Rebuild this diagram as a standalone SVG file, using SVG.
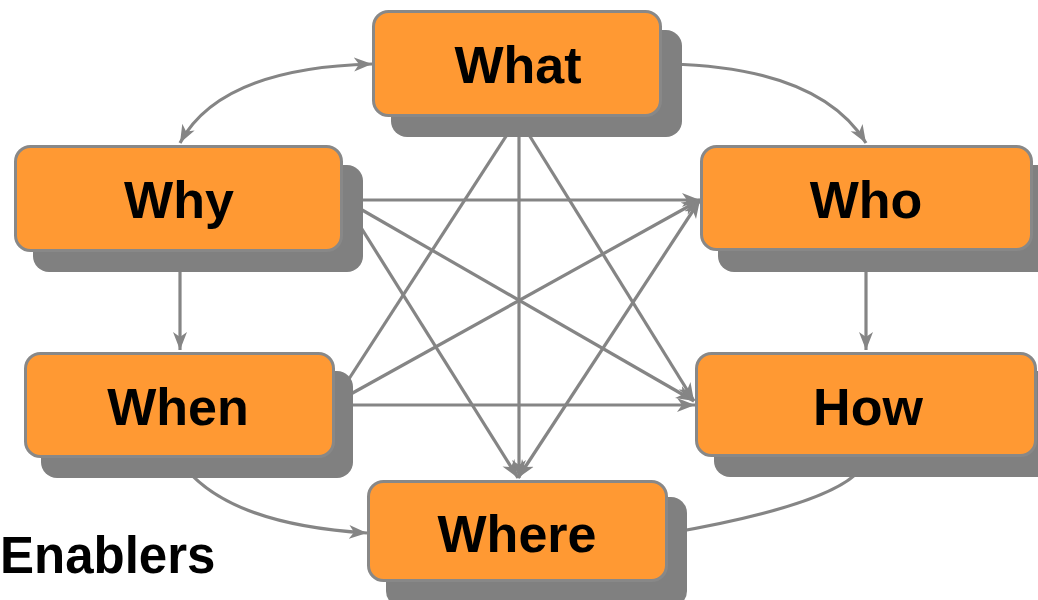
<svg xmlns="http://www.w3.org/2000/svg" width="1038" height="600" viewBox="0 0 1038 600">
<style>
.shadow{fill:#808080}
.box{fill:#FF9933;stroke:#888888;stroke-width:3}
.lbl{font-family:"Liberation Sans",Arial,sans-serif;font-weight:bold;font-size:52px;fill:#000;text-anchor:middle}
.conn{fill:none;stroke:#858585;stroke-width:3.2}
</style>
<defs>
<marker id="arr" markerUnits="userSpaceOnUse" markerWidth="20" markerHeight="16" refX="18" refY="7" orient="auto-start-reverse" viewBox="0 0 20 14">
<path d="M0,0 L18,7 L0,14 L5,7 z" fill="#858585"/>
</marker>
</defs>
<rect width="1038" height="600" fill="#fff"/>
<g id="connectors">
<path class="conn" d="M180,143 Q220,68 372,64" marker-start="url(#arr)" marker-end="url(#arr)"/>
<path class="conn" d="M670,64 Q820,68 866,143" marker-end="url(#arr)"/>
<line class="conn" x1="180" y1="260" x2="180" y2="350" marker-end="url(#arr)"/>
<line class="conn" x1="866" y1="260" x2="866" y2="350" marker-end="url(#arr)"/>
<path class="conn" d="M187,470 Q235,525 367,533" marker-end="url(#arr)"/>
<path class="conn" d="M860,470 Q830,505 670,533"/>
<line class="conn" x1="350" y1="200" x2="700" y2="200" marker-end="url(#arr)"/>
<line class="conn" x1="350" y1="203" x2="694" y2="401" marker-end="url(#arr)"/>
<line class="conn" x1="350" y1="210" x2="518" y2="478" marker-end="url(#arr)"/>
<line class="conn" x1="519" y1="130" x2="519" y2="478" marker-end="url(#arr)"/>
<line class="conn" x1="510" y1="130" x2="345" y2="385"/>
<line class="conn" x1="526" y1="130" x2="694" y2="401" marker-end="url(#arr)"/>
<line class="conn" x1="340" y1="400" x2="700" y2="200" marker-end="url(#arr)"/>
<line class="conn" x1="340" y1="405" x2="695" y2="405" marker-end="url(#arr)"/>
<line class="conn" x1="518" y1="478" x2="700" y2="200" marker-start="url(#arr)" marker-end="url(#arr)"/>
</g>
<g id="node-what">
<rect class="shadow" x="391" y="30" width="291" height="107" rx="16"/>
<rect class="box" x="373.5" y="11.5" width="287" height="104" rx="15"/>
<text class="lbl" x="518" y="83">What</text>
</g>
<g id="node-why">
<rect class="shadow" x="33" y="165" width="330" height="107" rx="16"/>
<rect class="box" x="15.5" y="146.5" width="326" height="104" rx="15"/>
<text class="lbl" x="179" y="218">Why</text>
</g>
<g id="node-who">
<rect class="shadow" x="718" y="165" width="334" height="107" rx="16"/>
<rect class="box" x="701.5" y="146.5" width="330" height="103" rx="15"/>
<text class="lbl" x="866" y="218">Who</text>
</g>
<g id="node-when">
<rect class="shadow" x="41" y="371" width="312" height="107" rx="16"/>
<rect class="box" x="25.5" y="353.5" width="308" height="103" rx="15"/>
<text class="lbl" x="178" y="425">When</text>
</g>
<g id="node-how">
<rect class="shadow" x="714" y="371" width="342" height="106" rx="16"/>
<rect class="box" x="696.5" y="353.5" width="339" height="102" rx="15"/>
<text class="lbl" x="868" y="425">How</text>
</g>
<g id="node-where">
<rect class="shadow" x="386" y="497" width="301" height="110" rx="16"/>
<rect class="box" x="368.5" y="481.5" width="298" height="99" rx="15"/>
<text class="lbl" x="517" y="552">Where</text>
</g>
<text x="0" y="573" font-family="'Liberation Sans',Arial,sans-serif" font-weight="bold" font-size="51" fill="#000">Enablers</text>
</svg>
